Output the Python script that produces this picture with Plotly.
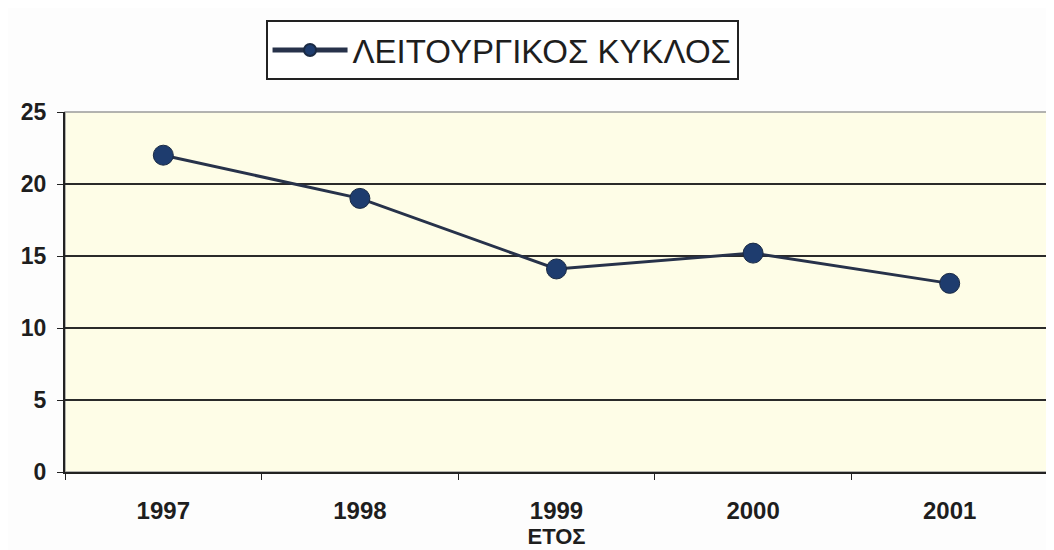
import plotly.graph_objects as go

years = ["1997", "1998", "1999", "2000", "2001"]
cycle = [22.0, 19.0, 14.1, 15.2, 13.1]
series_name = "ΛΕΙΤΟΥΡΓΙΚΟΣ ΚΥΚΛΟΣ"
x_title = "ΕΤΟΣ"
y_ticks = [0, 5, 10, 15, 20, 25]

fig = go.Figure()
fig.add_trace(go.Scatter(
    x=years, y=cycle, name=series_name, mode="lines+markers",
    line=dict(color="#27324a", width=3),
    marker=dict(color="#1e3c6e", size=20, line=dict(color="#1a2a44", width=1)),
    showlegend=True,
))

fig.update_layout(
    width=1054, height=550,
    margin=dict(l=57, r=14, t=104, b=86, autoexpand=False),
    paper_bgcolor="#fdfdfd",
    plot_bgcolor="#fefde7",
    font=dict(family="Liberation Sans, Arial, sans-serif", color="#1e1e1e"),
    showlegend=True,
    legend=dict(
        x=0.4446, xanchor="center", y=1.2556, yanchor="top",
        orientation="h",
        bgcolor="#ffffff", bordercolor="#222222", borderwidth=2,
        font=dict(size=33, color="#1e1e1e"),
        itemsizing="constant",
        itemwidth=75,
    ),
    xaxis=dict(
        type="category",
        tickson="boundaries",
        ticks="outside", ticklen=6, tickcolor="#222",
        showline=True, linecolor="#222", linewidth=2,
        showgrid=False,
        automargin=False,
        tickfont=dict(size=24, family="Liberation Sans, Arial", weight="bold"),
        ticklabelstandoff=16,
        title=dict(text="<b>" + x_title + "</b>", font=dict(size=22), standoff=4),
        range=[-0.5, 4.5],
    ),
    yaxis=dict(
        range=[0, 25],
        tickvals=y_ticks,
        ticks="outside", ticklen=6, tickcolor="#222",
        showline=True, linecolor="#222", linewidth=2,
        showgrid=True, gridcolor="#2a2a2a", gridwidth=2,
        zeroline=False,
        automargin=False,
        tickfont=dict(size=23, family="Liberation Sans, Arial", weight="bold"),
        ticklabelstandoff=6,
    ),
)
fig.add_shape(type="rect", xref="paper", yref="paper", x0=0, y0=0, x1=1, y1=1,
              line=dict(color="#9a9a9a", width=1.5), layer="below")

fig.write_html("out.html")
